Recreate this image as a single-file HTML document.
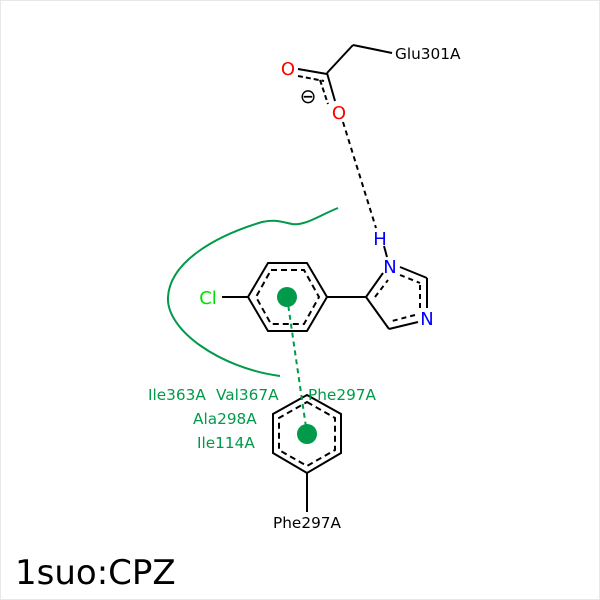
<!DOCTYPE html>
<html><head><meta charset="utf-8"><style>
html,body{margin:0;padding:0;background:#fff}
svg{display:block}
text{font-family:"DejaVu Sans","Liberation Sans",sans-serif}
</style></head><body>
<svg width="600" height="600" viewBox="0 0 600 600" xmlns="http://www.w3.org/2000/svg">
<rect x="0.5" y="0.5" width="599" height="599" fill="#fff" stroke="#e8e8e8"/>
<path d="M338,208 C318,216 305,226 292,224 C282,222 276,219 262,222 C215,236 170,262 168,297 C166,330 220,368 280,376" fill="none" stroke="#009a4a" stroke-width="2"/>
<g stroke="#000" stroke-width="2" fill="none">
<polygon points="268,263 307,263 327,297 307,331 268,331 248,297"/>
<polygon points="271,270 304,270 319,297 304,324 271,324 256,297" stroke-dasharray="6,4"/>
<line x1="222" y1="297" x2="248" y2="297"/>
<line x1="327" y1="297" x2="366" y2="297"/>
<line x1="366" y1="297" x2="383" y2="273"/>
<line x1="400" y1="267" x2="427" y2="278"/>
<line x1="427" y1="278" x2="427" y2="308"/>
<line x1="418" y1="322" x2="389" y2="329"/>
<line x1="389" y1="329" x2="366" y2="297"/>
<line x1="375" y1="297" x2="388" y2="280" stroke-dasharray="5,4"/>
<line x1="400" y1="275" x2="420" y2="283" stroke-dasharray="5,4"/>
<line x1="420" y1="285" x2="420" y2="309" stroke-dasharray="5,4"/>
<line x1="415" y1="315" x2="392" y2="321" stroke-dasharray="5,4"/>
<line x1="384" y1="246" x2="387" y2="257"/>
<line x1="327" y1="73" x2="353" y2="45"/>
<line x1="353" y1="45" x2="392" y2="53"/>
<line x1="298" y1="69" x2="327" y2="74"/>
<line x1="298" y1="76" x2="324" y2="81" stroke-dasharray="5,3"/>
<line x1="327" y1="73" x2="335" y2="101"/>
<line x1="320" y1="80" x2="328" y2="104" stroke-dasharray="5,3"/>
<line x1="343" y1="122" x2="376" y2="228" stroke-dasharray="5,4"/>
<polygon points="307,395 341,414 341,453 307,473 273,453 273,414"/>
<polygon points="307,402 335,418 335,450 307,466 279,450 279,418" stroke-dasharray="6,4"/>
<line x1="307" y1="473" x2="307" y2="512"/>
</g>
<line x1="287" y1="297" x2="307" y2="434" stroke="#009a4a" stroke-width="2" stroke-dasharray="5,4"/>
<circle cx="287" cy="297" r="10" fill="#009a4a"/>
<circle cx="307" cy="434" r="10" fill="#009a4a"/>
<text x="208" y="304" font-size="18" fill="#00e000" text-anchor="middle">Cl</text>
<text x="390" y="273" font-size="18" fill="#0000ff" text-anchor="middle">N</text>
<text x="427" y="325" font-size="18" fill="#0000ff" text-anchor="middle">N</text>
<text x="380" y="245" font-size="18" fill="#0000ff" text-anchor="middle">H</text>
<text x="288" y="75" font-size="18" fill="#ff0000" text-anchor="middle">O</text>
<text x="339" y="119" font-size="18" fill="#ff0000" text-anchor="middle">O</text>
<text x="308" y="103" font-size="20" fill="#000" text-anchor="middle">⊖</text>
<text x="395" y="59" font-size="15.3" fill="#000">Glu301A</text>
<text x="307" y="528" font-size="15.3" fill="#000" text-anchor="middle">Phe297A</text>
<g font-size="15.3" fill="#009a4a">
<text x="148" y="400">Ile363A</text>
<text x="216" y="400">Val367A</text>
<text x="308" y="400">Phe297A</text>
<text x="193" y="424">Ala298A</text>
<text x="197" y="448">Ile114A</text>
</g>
<text x="15" y="584" font-size="34" fill="#000">1suo:CPZ</text>
</svg>
</body></html>
